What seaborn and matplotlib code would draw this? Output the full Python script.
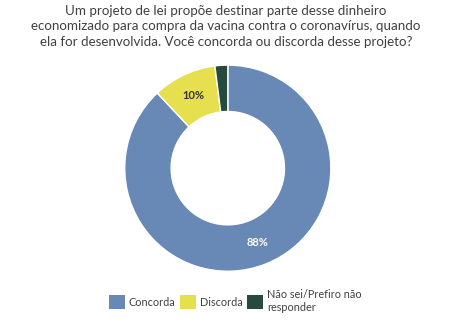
import matplotlib
matplotlib.use("Agg")
import matplotlib.pyplot as plt
import seaborn as sns
import numpy as np
from matplotlib.patches import Patch

sns.set_theme(style="white")
plt.rcParams['font.family'] = ['Lato', 'DejaVu Sans']

categories = ["Concorda", "Discorda", "Não sei/Prefiro não\nresponder"]
values = [88, 10, 2]
labels_pct = ["88%", "10%", ""]
colors = ["#6888b6", "#e6e04e", "#264a3c"]
label_colors = ["white", "#333333", "white"]

title = ("Um projeto de lei propõe destinar parte desse dinheiro\n"
         "economizado para compra da vacina contra o coronavírus, quando\n"
         "ela for desenvolvida. Você concorda ou discorda desse projeto?")

fig = plt.figure(figsize=(4.52, 3.33), dpi=100)
fig.patch.set_facecolor("white")
ax = fig.add_axes([0.276, 0.185, 0.456, 0.62])
wedges, _ = ax.pie(values, colors=colors, startangle=90, counterclock=False,
                   radius=1.0, wedgeprops=dict(width=0.45, edgecolor="white", linewidth=1))
for w, lab, lc in zip(wedges, labels_pct, label_colors):
    if not lab:
        continue
    ang = np.deg2rad((w.theta1 + w.theta2) / 2)
    r = 0.775
    ax.text(r * np.cos(ang), r * np.sin(ang), lab, ha="center", va="center",
            fontsize=8, fontweight="bold", color=lc)
ax.set_xlim(-1, 1)
ax.set_ylim(-1, 1)
ax.set_aspect("equal")
ax.axis("off")

fig.text(0.5, 0.985, title, ha="center", va="top", fontsize=9.6, color="#404040",
         linespacing=1.35)

handles = [Patch(facecolor=c, edgecolor="none") for c in colors]
leg = fig.legend(handles, categories, loc="center", bbox_to_anchor=(0.52, 0.096), ncol=3,
                 frameon=False, fontsize=7.8, handlelength=1.5, handleheight=1.6,
                 handletextpad=0.35, columnspacing=0.4, labelcolor="#404040")

fig.savefig("out.png", dpi=100, facecolor="white")
